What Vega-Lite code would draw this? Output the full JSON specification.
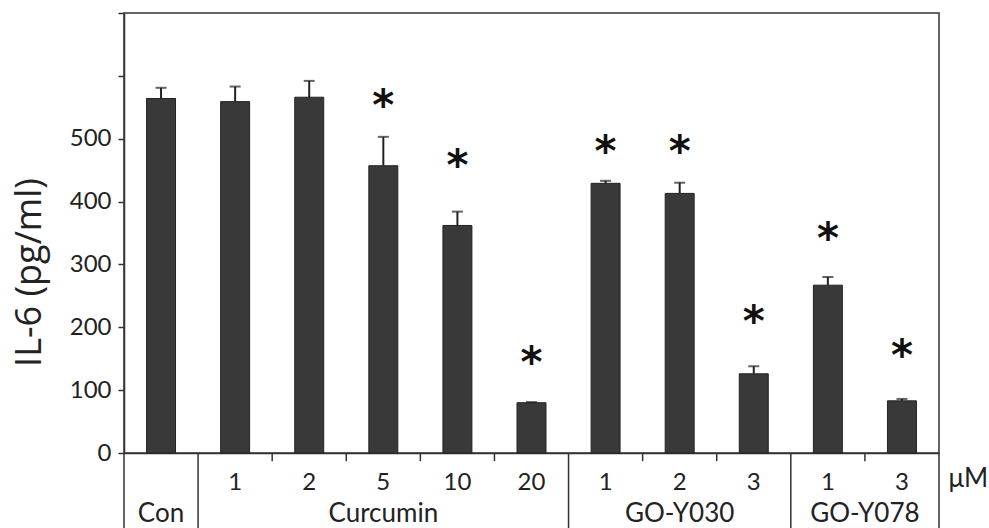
{
  "$schema": "https://vega.github.io/schema/vega-lite/v6.json",
  "width": 815,
  "height": 440,
  "autosize": {"type": "none"},
  "padding": {"left": 124, "top": 13, "right": 50, "bottom": 75},
  "background": "white",
  "config": {"view": {"stroke": "#333", "strokeWidth": 1.5}, "font": "Lato"},
  "datasets": {
    "bars": [
      {"cat": "Con", "value": 564, "err": 581, "star": null},
      {"cat": "Curcumin 1", "value": 559, "err": 583, "star": null},
      {"cat": "Curcumin 2", "value": 566, "err": 592, "star": null},
      {"cat": "Curcumin 5", "value": 457, "err": 503, "star": 566},
      {"cat": "Curcumin 10", "value": 362, "err": 384, "star": 471},
      {"cat": "Curcumin 20", "value": 80, "err": 81, "star": 157},
      {"cat": "GO-Y030 1", "value": 429, "err": 433, "star": 493},
      {"cat": "GO-Y030 2", "value": 413, "err": 430, "star": 493},
      {"cat": "GO-Y030 3", "value": 126, "err": 138, "star": 222},
      {"cat": "GO-Y078 1", "value": 267, "err": 280, "star": 354},
      {"cat": "GO-Y078 3", "value": 83, "err": 86, "star": 169}
    ],
    "seps": [{"cat": "Con"}, {"cat": "Curcumin 1"}, {"cat": "GO-Y030 1"}, {"cat": "GO-Y078 1"}],
    "minor": [{"cat": "Curcumin 2"}, {"cat": "Curcumin 5"}, {"cat": "Curcumin 10"}, {"cat": "Curcumin 20"}, {"cat": "GO-Y030 2"}, {"cat": "GO-Y030 3"}, {"cat": "GO-Y078 3"}],
    "sepEnd": [{"cat": "GO-Y078 3"}],
    "groups": [
      {"label": "Con", "cat": "Con"},
      {"label": "Curcumin", "cat": "Curcumin 5"},
      {"label": "GO-Y030", "cat": "GO-Y030 2"}
    ],
    "groupEdge": [{"label": "GO-Y078", "cat": "GO-Y078 3"}]
  },
  "encoding": {
    "x": {
      "field": "cat",
      "type": "nominal",
      "sort": null,
      "scale": {
        "domain": ["Con", "Curcumin 1", "Curcumin 2", "Curcumin 5", "Curcumin 10", "Curcumin 20", "GO-Y030 1", "GO-Y030 2", "GO-Y030 3", "GO-Y078 1", "GO-Y078 3"],
        "paddingInner": 0,
        "paddingOuter": 0
      },
      "axis": {
        "title": "μM",
        "titleX": 824,
        "titleY": 25,
        "titleAlign": "left",
        "titleBaseline": "middle",
        "titleFontSize": 26,
        "titleFont": "Lato",
        "titleFontWeight": "normal",
        "titleColor": "#222",
        "labelExpr": "indexof(datum.value, ' ') > 0 ? split(datum.value, ' ')[1] : ''",
        "labelAngle": 0,
        "labelFontSize": 24,
        "labelFont": "Lato",
        "labelColor": "#222",
        "labelPadding": 17,
        "labelBaseline": "top",
        "ticks": false,
        "domainColor": "#333",
        "domainWidth": 1.5
      }
    }
  },
  "layer": [
    {
      "data": {"name": "bars"},
      "mark": {"type": "bar", "fill": "#393939", "stroke": "#222", "strokeWidth": 1, "width": {"band": 0.391}},
      "encoding": {
        "y": {
          "field": "value",
          "type": "quantitative",
          "scale": {"domain": [0, 700], "nice": false},
          "axis": {
            "title": "IL-6 (pg/ml)",
            "values": [0, 100, 200, 300, 400, 500, 600, 700],
            "labelExpr": "datum.value <= 500 ? datum.label : ''",
            "grid": false,
            "labelFontSize": 24,
            "labelFont": "Lato",
            "labelColor": "#222",
            "labelPadding": 7,
            "tickSize": 6,
            "tickColor": "#333",
            "tickWidth": 1.5,
            "domainColor": "#333",
            "domainWidth": 1.5,
            "titleFontSize": 36,
            "titleFont": "Open Sans",
            "titleFontWeight": "normal",
            "titleColor": "#222",
            "titleX": -84,
            "titleY": 259,
            "titleAlign": "center",
            "titleBaseline": "alphabetic"
          }
        }
      }
    },
    {
      "data": {"name": "bars"},
      "mark": {"type": "rule", "stroke": "#222", "strokeWidth": 2},
      "encoding": {
        "y": {"field": "value", "type": "quantitative"},
        "y2": {"field": "err"}
      }
    },
    {
      "data": {"name": "bars"},
      "mark": {"type": "tick", "color": "#222", "thickness": 2, "size": 11},
      "encoding": {
        "y": {"field": "err", "type": "quantitative"}
      }
    },
    {
      "data": {"name": "bars"},
      "transform": [{"filter": "datum.star != null"}],
      "mark": {"type": "text", "font": "DejaVu Sans", "fontWeight": "bold", "fontSize": 42, "baseline": "alphabetic", "dy": 23, "color": "#111"},
      "encoding": {
        "y": {"field": "star", "type": "quantitative"},
        "text": {"value": "*"}
      }
    },
    {
      "data": {"name": "seps"},
      "mark": {"type": "rule", "stroke": "#333", "strokeWidth": 1.5},
      "encoding": {
        "x": {"field": "cat", "type": "nominal", "bandPosition": 0},
        "y": {"datum": 0},
        "y2": {"datum": -130}
      }
    },
    {
      "data": {"name": "minor"},
      "mark": {"type": "rule", "stroke": "#333", "strokeWidth": 1.5},
      "encoding": {
        "x": {"field": "cat", "type": "nominal", "bandPosition": 0},
        "y": {"datum": 0},
        "y2": {"datum": -13}
      }
    },
    {
      "data": {"name": "sepEnd"},
      "mark": {"type": "rule", "stroke": "#333", "strokeWidth": 1.5},
      "encoding": {
        "x": {"field": "cat", "type": "nominal", "bandPosition": 1},
        "y": {"datum": 0},
        "y2": {"datum": -130}
      }
    },
    {
      "data": {"name": "groups"},
      "mark": {"type": "text", "font": "Lato", "fontSize": 26, "color": "#222", "baseline": "middle"},
      "encoding": {
        "y": {"datum": -97},
        "text": {"field": "label"}
      }
    },
    {
      "data": {"name": "groupEdge"},
      "mark": {"type": "text", "font": "Lato", "fontSize": 26, "color": "#222", "baseline": "middle"},
      "encoding": {
        "x": {"field": "cat", "type": "nominal", "bandPosition": 0},
        "y": {"datum": -97},
        "text": {"field": "label"}
      }
    }
  ]
}
